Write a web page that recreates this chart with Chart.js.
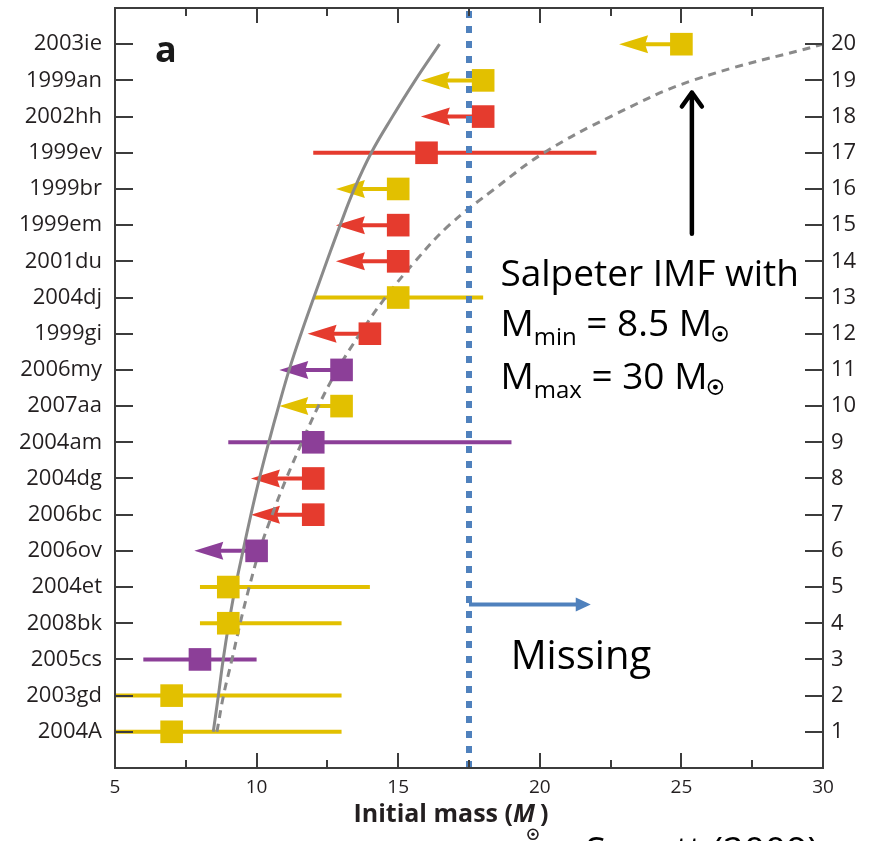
<!DOCTYPE html>
<html>
<head>
<meta charset="utf-8">
<script src="https://cdn.jsdelivr.net/npm/chart.js@4.4.1/dist/chart.umd.min.js"></script>
<style>
html, body { margin: 0; padding: 0; background: #fff; overflow: hidden; }
#wrap { width: 870px; height: 841px; position: relative; }
</style>
</head>
<body>
<div id="wrap"><canvas id="snChart"></canvas></div>
<script>
// supernovae ranked by progenitor mass, rank 1 at the bottom
const snNames = ['2004A', '2003gd', '2005cs', '2008bk', '2004et', '2006ov', '2006bc', '2004dg', '2004am', '2007aa',
                 '2006my', '1999gi', '2004dj', '2001du', '1999em', '1999br', '1999ev', '2002hh', '1999an', '2003ie'];
const rankLabels = ['1', '2', '3', '4', '5', '6', '7', '8', '9', '10',
                    '11', '12', '13', '14', '15', '16', '17', '18', '19', '20'];
const massTicks = [5, 10, 15, 20, 25, 30];

const snMass   = [7, 7, 8, 9, 9, 10, 12, 12, 12, 13, 13, 14, 15, 15, 15, 15, 16, 18, 18, 25];
const snGroup  = ['yellow', 'yellow', 'purple', 'yellow', 'yellow', 'purple', 'red', 'red', 'purple', 'yellow',
                  'purple', 'red', 'yellow', 'red', 'red', 'yellow', 'red', 'red', 'yellow', 'yellow'];
const errLow   = [5, 5, 6, 8, 8, null, null, null, 9, null, null, null, 12, null, null, null, 12, null, null, null];
const errHigh  = [13, 13, 10, 13, 14, null, null, null, 19, null, null, null, 18, null, null, null, 22, null, null, null];
// upper limits: where the arrow points to
const limitTip = [null, null, null, null, null, 7.8, 9.8, 9.8, null, 10.8, 10.8, 11.8, null, 12.8, 12.8, 12.8, null, 15.8, 15.8, 22.8];

// expected masses for ranks 1..20
const solidCurve = [8.47, 8.65, 8.82, 9.02, 9.25, 9.52, 9.8, 10.1, 10.43, 10.78,
                    11.15, 11.57, 12.02, 12.48, 12.95, 13.45, 14.05, 14.8, 15.6, 16.46];
const dashedCurve = [8.6, 8.83, 9.13, 9.42, 9.74, 10.1, 10.55, 11.05, 11.6, 12.18,
                     12.85, 13.65, 14.55, 15.6, 16.8, 18.4, 20.15, 22.5, 25.4, 30];
const missingCut = 17.5;

const groupColors = { yellow: '#E2C000', red: '#E53B2E', purple: '#8C3F98' };
const FONT = "'Open Sans', sans-serif";
const inkColor = '#231F20';

function drawSun(ctx, cx, cy, r) {
    ctx.beginPath();
    ctx.arc(cx, cy, r, 0, Math.PI * 2);
    ctx.lineWidth = 1.6;
    ctx.stroke();
    ctx.beginPath();
    ctx.arc(cx, cy, r * 0.35, 0, Math.PI * 2);
    ctx.fill();
}

// draws a list of text pieces one after another, returns end x
function drawRuns(ctx, x, y, runs) {
    runs.forEach(run => {
        ctx.font = run.font;
        ctx.fillText(run.text, x, y + (run.dy || 0));
        x += ctx.measureText(run.text).width;
    });
    return x;
}

function noPadding(s) {
    s.paddingTop = 0;
    s.paddingBottom = 0;
    s.paddingLeft = 0;
    s.paddingRight = 0;
}

const decorations = {
    id: 'decorations',
    beforeDatasetsDraw(chart) {
        const { ctx, scales: { x, y } } = chart;
        ctx.save();
        ctx.beginPath();
        ctx.rect(chart.chartArea.left, chart.chartArea.top, chart.chartArea.width, chart.chartArea.height);
        ctx.clip();
        ctx.lineWidth = 4;
        snNames.forEach((name, i) => {
            const py = y.getPixelForValue(i + 1);
            const col = groupColors[snGroup[i]];
            ctx.strokeStyle = col;
            ctx.fillStyle = col;
            if (errLow[i] !== null) {
                ctx.beginPath();
                ctx.moveTo(x.getPixelForValue(errLow[i]), py);
                ctx.lineTo(x.getPixelForValue(errHigh[i]), py);
                ctx.stroke();
            }
            if (limitTip[i] !== null) {
                const tip = x.getPixelForValue(limitTip[i]);
                const from = x.getPixelForValue(snMass[i]);
                ctx.beginPath();
                ctx.moveTo(from, py);
                ctx.lineTo(tip + 20, py);
                ctx.stroke();
                ctx.beginPath();
                ctx.moveTo(tip, py);
                ctx.lineTo(tip + 29, py - 9);
                ctx.lineTo(tip + 26, py);
                ctx.lineTo(tip + 29, py + 9);
                ctx.closePath();
                ctx.fill();
            }
        });
        ctx.restore();
    },
    afterDraw(chart) {
        const { ctx, chartArea: area, scales: { x, y } } = chart;
        ctx.save();

        // frame and inward ticks
        ctx.strokeStyle = '#3C3C3C';
        ctx.lineWidth = 2;
        ctx.strokeRect(area.left, area.top, area.width, area.height);
        ctx.beginPath();
        rankLabels.forEach((lbl, i) => {
            const py = Math.round(y.getPixelForValue(i + 1));
            ctx.moveTo(area.left, py);
            ctx.lineTo(area.left + 18, py);
            ctx.moveTo(area.right, py);
            ctx.lineTo(area.right - 18, py);
        });
        for (let m = 7.5; m < 30; m += 2.5) {
            const px = Math.round(x.getPixelForValue(m));
            const len = massTicks.includes(m) ? 15 : 8;
            ctx.moveTo(px, area.bottom);
            ctx.lineTo(px, area.bottom - len);
            ctx.moveTo(px, area.top);
            ctx.lineTo(px, area.top + len);
        }
        ctx.stroke();

        // panel letter
        ctx.fillStyle = '#1A1A1A';
        ctx.textBaseline = 'alphabetic';
        ctx.font = 'bold 36px ' + FONT;
        ctx.fillText('a', x.getPixelForValue(6.41), y.getPixelForValue(19.5));

        // x axis title
        ctx.fillStyle = inkColor;
        ctx.strokeStyle = inkColor;
        const titleY = y.getPixelForValue(-1.5);
        let tx = x.getPixelForValue(13.42);
        tx = drawRuns(ctx, tx, titleY, [
            { text: 'Initial mass (', font: 'bold 25px ' + FONT },
            { text: 'M', font: 'italic bold 25px ' + FONT }
        ]);
        drawSun(ctx, tx - 2, titleY + 12, 5);
        drawRuns(ctx, tx + 5, titleY, [{ text: ')', font: 'bold 25px ' + FONT }]);

        // Salpeter annotation
        ctx.fillStyle = '#000';
        ctx.strokeStyle = '#000';
        const ax = x.getPixelForValue(18.61);
        drawRuns(ctx, ax, y.getPixelForValue(13.33), [{ text: 'Salpeter IMF with', font: '37px ' + FONT }]);
        let l2y = y.getPixelForValue(11.94);
        let ex = drawRuns(ctx, ax, l2y, [
            { text: 'M', font: '37px ' + FONT },
            { text: 'min', font: '24px ' + FONT, dy: 9 },
            { text: ' = 8.5 M', font: '37px ' + FONT }
        ]);
        drawSun(ctx, ex + 8, l2y - 2, 7);
        let l3y = y.getPixelForValue(10.47);
        ex = drawRuns(ctx, ax, l3y, [
            { text: 'M', font: '37px ' + FONT },
            { text: 'max', font: '24px ' + FONT, dy: 9 },
            { text: ' = 30 M', font: '37px ' + FONT }
        ]);
        drawSun(ctx, ex + 8, l3y - 2, 7);

        // black arrow pointing at the dashed curve
        const bx = x.getPixelForValue(25.37);
        const bTop = y.getPixelForValue(18.72);
        const bBot = y.getPixelForValue(14.76);
        ctx.lineWidth = 4.5;
        ctx.lineCap = 'round';
        ctx.lineJoin = 'round';
        ctx.beginPath();
        ctx.moveTo(bx, bBot);
        ctx.lineTo(bx, bTop + 2);
        ctx.moveTo(bx - 10, bTop + 16);
        ctx.lineTo(bx, bTop + 2);
        ctx.lineTo(bx + 10, bTop + 16);
        ctx.stroke();

        // missing arrow + label
        const my = y.getPixelForValue(4.52);
        const mTip = x.getPixelForValue(21.8);
        ctx.strokeStyle = '#4F81BD';
        ctx.fillStyle = '#4F81BD';
        ctx.lineWidth = 4;
        ctx.lineCap = 'butt';
        ctx.beginPath();
        ctx.moveTo(x.getPixelForValue(missingCut), my);
        ctx.lineTo(mTip - 10, my);
        ctx.stroke();
        ctx.beginPath();
        ctx.moveTo(mTip, my);
        ctx.lineTo(mTip - 15, my - 7);
        ctx.lineTo(mTip - 15, my + 7);
        ctx.closePath();
        ctx.fill();

        ctx.fillStyle = '#000';
        ctx.font = '40px ' + FONT;
        ctx.fillText('Missing', x.getPixelForValue(18.97), y.getPixelForValue(2.74));

        // source, cut by the bottom edge
        ctx.font = '37px ' + FONT;
        ctx.fillText('Smartt (2009)', x.getPixelForValue(21.62), y.getPixelForValue(-2.62));
        ctx.restore();
    }
};

const ctx = document.getElementById('snChart').getContext('2d');
const chart = new Chart(ctx, {
    type: 'scatter',
    data: {
        datasets: [
            {
                label: 'missing cut',
                data: [{ x: missingCut, y: 0 }, { x: missingCut, y: 21 }],
                showLine: true,
                borderColor: '#4F81BD',
                borderWidth: 6,
                borderDash: [7, 8],
                pointRadius: 0
            },
            {
                label: 'progenitors',
                data: snMass.map((m, i) => ({ x: m, y: i + 1 })),
                pointStyle: 'rect',
                pointRadius: 16,
                pointHoverRadius: 16,
                borderWidth: 0,
                backgroundColor: snGroup.map(g => groupColors[g])
            },
            {
                label: 'IMF solid',
                data: solidCurve.map((m, i) => ({ x: m, y: i + 1 })),
                showLine: true,
                borderColor: '#8A8A8A',
                borderWidth: 3,
                tension: 0.4,
                pointRadius: 0
            },
            {
                label: 'IMF dashed',
                data: dashedCurve.map((m, i) => ({ x: m, y: i + 1 })),
                showLine: true,
                borderColor: '#8A8A8A',
                borderWidth: 3,
                borderDash: [8, 6],
                tension: 0.4,
                pointRadius: 0
            }
        ]
    },
    options: {
        responsive: true,
        maintainAspectRatio: false,
        devicePixelRatio: 1,
        animation: false,
        layout: { autoPadding: false, padding: { top: 8, left: 0, right: 0, bottom: 0 } },
        plugins: {
            legend: { display: false },
            tooltip: { enabled: false }
        },
        scales: {
            x: {
                type: 'linear',
                min: 5,
                max: 30,
                grid: { display: false, drawTicks: false },
                border: { display: false },
                ticks: {
                    stepSize: 5,
                    padding: 8,
                    color: inkColor,
                    font: { family: FONT, size: 19 },
                    callback: v => massTicks.includes(v) ? String(v) : ''
                },
                afterFit: s => { s.height = 73; noPadding(s); }
            },
            y: {
                type: 'linear',
                position: 'left',
                min: 0,
                max: 21,
                grid: { display: false, drawTicks: false },
                border: { display: false },
                ticks: {
                    stepSize: 1,
                    autoSkip: false,
                    padding: 13,
                    color: inkColor,
                    font: { family: FONT, size: 22 },
                    callback: v => snNames[v - 1] || ''
                },
                afterFit: s => { s.width = 115; noPadding(s); }
            },
            y2: {
                type: 'linear',
                position: 'right',
                min: 0,
                max: 21,
                grid: { display: false, drawTicks: false },
                border: { display: false },
                ticks: {
                    stepSize: 1,
                    autoSkip: false,
                    padding: 8,
                    color: inkColor,
                    font: { family: FONT, size: 22 },
                    callback: v => rankLabels[v - 1] || ''
                },
                afterFit: s => { s.width = 47; noPadding(s); }
            }
        }
    },
    plugins: [decorations]
});
</script>
</body>
</html>
